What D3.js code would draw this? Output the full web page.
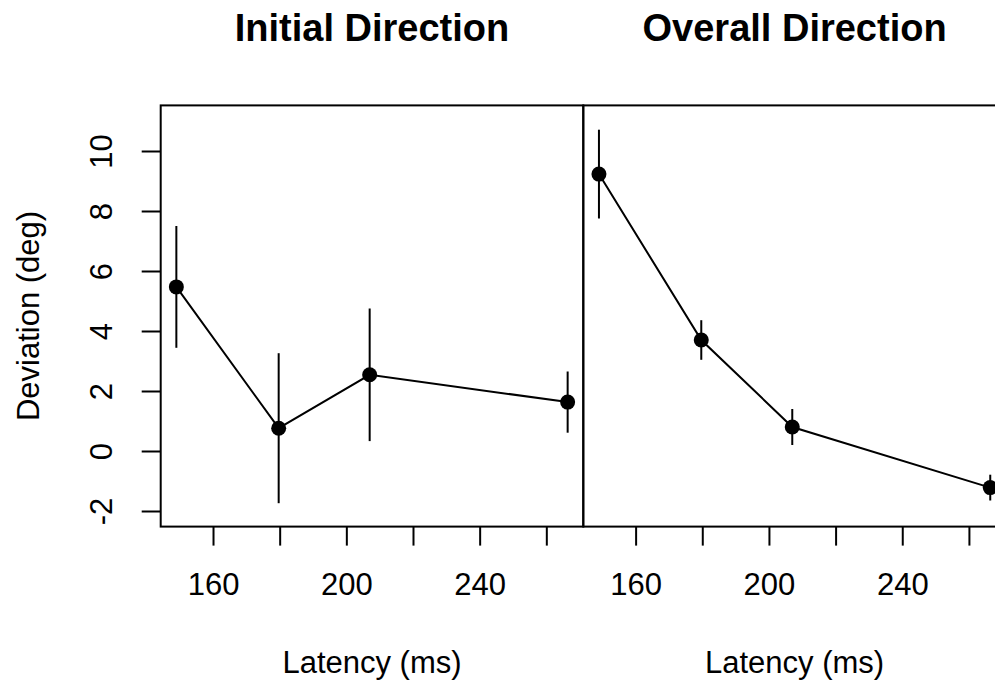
<!DOCTYPE html>
<html>
<head>
<meta charset="utf-8">
<script src="https://cdn.jsdelivr.net/npm/d3@7"></script>
<style>
  html, body { margin: 0; padding: 0; background: #fff; }
  svg { display: block; }
  text { font-family: "Liberation Sans", Arial, Helvetica, sans-serif; fill: #000; }
</style>
</head>
<body>
<svg id="chart" width="995" height="680"></svg>
<script>
// ---- data ----
const latency = [149.0, 179.7, 207.0, 266.4];
const initialMean = [5.47, 0.76, 2.54, 1.63];
const initialErr = [2.03, 2.50, 2.21, 1.02];
const overallMean = [9.23, 3.70, 0.80, -1.22];
const overallErr = [1.48, 0.66, 0.60, 0.43];
const panelTitles = ["Initial Direction", "Overall Direction"];
const xTicks = [160, 180, 200, 220, 240, 260];
const xTickLabels = [160, 200, 240];
const yTicks = [-2, 0, 2, 4, 6, 8, 10];
const yLimits = [-2, 11];
const xLabel = "Latency (ms)";
const yLabel = "Deviation (deg)";

// ---- layout ----
const svg = d3.select("#chart");
const panelLeft = 160.7, panelW = 422.6, plotTop = 105.4, plotBottom = 526.6;
const tickLen = 19;

function pad(ext) { const s = (ext[1] - ext[0]) * 0.04; return [ext[0] - s, ext[1] + s]; }
const xDomain = pad(d3.extent(latency));
const yDomain = pad(yLimits);
const y = d3.scaleLinear().domain(yDomain).range([plotBottom, plotTop]);

const panels = [
  { title: panelTitles[0], mean: initialMean, err: initialErr, yAxis: true },
  { title: panelTitles[1], mean: overallMean, err: overallErr, yAxis: false }
];

panels.forEach((p, i) => {
  const x0 = panelLeft + i * panelW;
  const x = d3.scaleLinear().domain(xDomain).range([x0, x0 + panelW]);
  const g = svg.append("g");
  const rows = latency.map((l, k) => ({ l, m: p.mean[k], e: p.err[k] }));

  // box
  g.append("rect").attr("x", x0).attr("y", plotTop).attr("width", panelW).attr("height", plotBottom - plotTop)
    .attr("fill", "none").attr("stroke", "#000").attr("stroke-width", 2);

  // x axis
  const xa = d3.axisBottom(x).tickValues(xTicks).tickSize(tickLen)
    .tickFormat(d => xTickLabels.includes(d) ? String(d) : "");
  const gx = g.append("g").attr("transform", `translate(0,${plotBottom})`).call(xa);
  gx.select(".domain").remove();
  gx.selectAll("line").attr("stroke", "#000").attr("stroke-width", 2);
  gx.selectAll("text").attr("font-size", 31).attr("y", 0).attr("dy", "0.35em")
    .attr("transform", "translate(0,58)").style("font-family", '"Liberation Sans", Arial, sans-serif');

  g.append("text").attr("x", x0 + panelW / 2).attr("y", 662).attr("dy", "0.35em")
    .attr("text-anchor", "middle").attr("font-size", 31).text(xLabel);

  // title
  g.append("text").attr("x", x0 + panelW / 2).attr("y", 41)
    .attr("text-anchor", "middle").attr("font-size", 38).attr("font-weight", "bold").text(p.title);

  if (p.yAxis) {
    const ya = d3.axisLeft(y).tickValues(yTicks).tickSize(tickLen).tickFormat(d => String(d));
    const gy = g.append("g").attr("transform", `translate(${x0},0)`).call(ya);
    gy.select(".domain").remove();
    gy.selectAll("line").attr("stroke", "#000").attr("stroke-width", 2);
    gy.selectAll("text").attr("font-size", 31).attr("x", 0).attr("y", 0)
      .attr("text-anchor", "middle")
      .attr("transform", "translate(-60,0) rotate(-90)")
      .attr("dy", "0.35em")
      .style("font-family", '"Liberation Sans", Arial, sans-serif');
    svg.append("text").attr("transform", `translate(28,${(plotTop + plotBottom) / 2}) rotate(-90)`)
      .attr("dy", "0.35em").attr("text-anchor", "middle").attr("font-size", 31).text(yLabel);
  }

  // error bars
  g.selectAll("line.err").data(rows).join("line").attr("class", "err")
    .attr("x1", d => x(d.l)).attr("x2", d => x(d.l))
    .attr("y1", d => y(d.m - d.e)).attr("y2", d => y(d.m + d.e))
    .attr("stroke", "#000").attr("stroke-width", 2);

  // line
  g.append("path").datum(rows)
    .attr("d", d3.line().x(d => x(d.l)).y(d => y(d.m)))
    .attr("fill", "none").attr("stroke", "#000").attr("stroke-width", 2);

  // points
  g.selectAll("circle").data(rows).join("circle")
    .attr("cx", d => x(d.l)).attr("cy", d => y(d.m)).attr("r", 7.5).attr("fill", "#000");
});
</script>
</body>
</html>
